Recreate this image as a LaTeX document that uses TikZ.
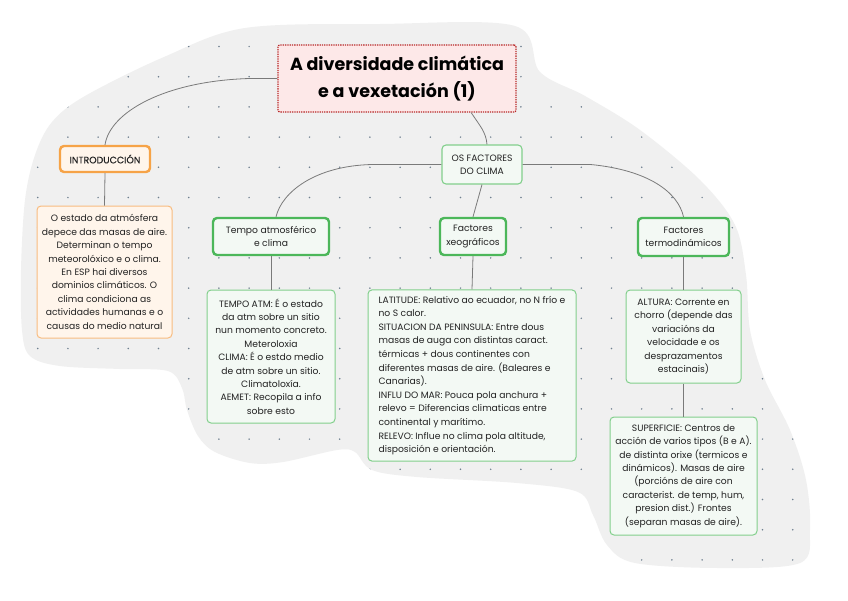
\documentclass[tikz,border=0pt]{standalone}
\usepackage{fontspec}
\setmainfont{Poppins}
\newfontfamily\semib[FakeBold=0.35]{Poppins}
\usetikzlibrary{calc}
\definecolor{blobgray}{HTML}{F0F0F0}
\definecolor{dotc}{HTML}{6F8090}
\definecolor{txt}{HTML}{222222}
\definecolor{connc}{HTML}{7A7A7A}
\definecolor{titlefill}{HTML}{FDE8E8}
\definecolor{titledraw}{HTML}{B82828}
\definecolor{orthick}{HTML}{F6A347}
\definecolor{orthin}{HTML}{F8BC80}
\definecolor{orfill}{HTML}{FFF5EB}
\definecolor{grthick}{HTML}{4CB75A}
\definecolor{grthin}{HTML}{82CF8C}
\definecolor{grfill}{HTML}{F3F9F4}
\tikzset{
  basebox/.style={rounded corners=4pt, align=center, inner sep=2pt, text=txt,
    font=\fontsize{9.2}{13.4}\selectfont},
  titlebox/.style={basebox, fill=titlefill, draw=titledraw, densely dotted, line width=1.3pt,
    rounded corners=2pt, text=black, font=\fontsize{17.5}{27.5}\selectfont\bfseries},
  orangehead/.style={basebox, fill=orfill, draw=orthick, line width=2.4pt,
    font=\fontsize{9.4}{13}\selectfont\semib},
  orangebody/.style={basebox, fill=orfill, draw=orthin, line width=1pt},
  greenhead/.style={basebox, fill=grfill, draw=grthick, line width=2.4pt},
  greenmid/.style={basebox, fill=grfill, draw=grthin, line width=1.1pt},
  greenbody/.style={basebox, fill=grfill, draw=grthin, line width=1pt},
  conn/.style={draw=connc, line width=0.8pt}
}
\begin{document}
\begin{tikzpicture}[x=1pt,y=-1pt]
\useasboundingbox (0,0) rectangle (848,600);
\fill[white] (0,0) rectangle (848,600);
\def\blob{plot[smooth cycle, tension=0.55] coordinates {
 (245,28) (380,24) (515,26) (540,72) (585,96) (640,130) (700,180) (735,225)
 (746,275) (750,330) (765,380) (790,430) (806,480) (810,530) (800,563) (720,568)
 (635,563) (607,545) (593,515) (578,492) (517,483) (417,477) (372,470) (355,452)
 (337,450) (283,462) (250,463) (215,452) (198,436) (187,410) (182,388) (168,371)
 (120,369) (60,366) (30,356) (22,330) (21,270) (25,200) (35,155) (52,122)
 (85,96) (164,57)}}
\fill[blobgray] \blob;
\begin{scope}
\clip \blob;
\foreach \i in {0,...,26} {
  \foreach \j in {0,...,17} {
    \fill[dotc] ({37.7+30.2*\i},{46.5+30.2*\j}) circle (0.85pt);
  }
}
\end{scope}

% nodes
\node[titlebox, minimum width=238pt, minimum height=67pt] (title) at (397,78.5)
  {A diversidade climática\\e a vexetación (1)};
\node[orangehead, minimum width=90pt, minimum height=26pt] (intro) at (105,159)
  {INTRODUCCIÓN};
\node[orangebody, minimum width=135pt, minimum height=132pt] (introbody) at (104.5,272)
  {O estado da atmósfera\\depece das masas de aire.\\Determinan o tempo\\meteorolóxico e o clima.\\En ESP hai diversos\\dominios climáticos. O\\clima condiciona as\\actividades humanas e o\\causas do medio natural};
\node[greenmid, minimum width=80pt, minimum height=39pt] (factores) at (482,164.5)
  {OS FACTORES\\DO CLIMA};
\node[greenhead, minimum width=116pt, minimum height=37pt] (tempo) at (271,236.5)
  {Tempo atmosférico\\e clima};
\node[greenhead, minimum width=66pt, minimum height=37pt] (xeo) at (473,236.5)
  {Factores\\xeográficos};
\node[greenhead, minimum width=91pt, minimum height=38pt] (termo) at (683.5,237)
  {Factores\\termodinámicos};
\node[greenbody, minimum width=128pt, minimum height=133pt] (tempobody) at (271,356.5)
  {TEMPO ATM: É o estado\\da atm sobre un sitio\\nun momento concreto.\\Meteroloxia\\CLIMA: É o estdo medio\\de atm sobre un sitio.\\Climatoloxía.\\AEMET: Recopila a info\\sobre esto};
\node[greenbody, minimum width=208pt, minimum height=171pt, align=left, inner sep=6pt,
  font=\fontsize{9.2}{13.6}\selectfont] (xeobody) at (472,375.5)
  {LATITUDE: Relativo ao ecuador, no N frío e\\no S calor.\\SITUACION DA PENINSULA: Entre dous\\masas de auga con distintas caract.\\térmicas + dous continentes con\\diferentes masas de aire. (Baleares e\\Canarias).\\INFLU DO MAR: Pouca pola anchura +\\relevo = Diferencias climaticas entre\\continental y marítimo.\\RELEVO: Influe no clima pola altitude,\\disposición e orientación.};
\node[greenbody, minimum width=115pt, minimum height=93pt] (altura) at (683.5,336.5)
  {ALTURA: Corrente en\\chorro (depende das\\variacións da\\velocidade e os\\desprazamentos\\estacinais)};
\node[greenbody, minimum width=147pt, minimum height=118pt] (superficie) at (683.5,476)
  {SUPERFICIE: Centros de\\acción de varios tipos (B e A).\\de distinta orixe (termicos e\\dinámicos). Masas de aire\\(porcións de aire con\\caracterist. de temp, hum,\\presion dist.) Frontes\\(separan masas de aire).};

% connectors
\draw[conn] (title.west) -- ++(-28,0) .. controls (165,81) and (110,112) .. (intro.north);
\draw[conn] ($(title.south west)!0.81!(title.south east)$) .. controls (480,126) and (486,132) .. ($(factores.north)+(5,0)$);
\draw[conn] (factores.west) -- ++(-70,0) .. controls (315,166) and (282,192) .. ($(tempo.north)+(5,0)$);
\draw[conn] (factores.south) -- (xeo.north);
\draw[conn] (factores.east) -- ++(68,0) .. controls (648,170) and (678,192) .. (termo.north);
\draw[conn] (intro.south) -- (introbody.north);
\draw[conn] (tempo.south) -- (tempobody.north);
\draw[conn] (xeo.south) -- (xeobody.north);
\draw[conn] (termo.south) -- (altura.north);
\draw[conn] (altura.south) -- (superficie.north);
\end{tikzpicture}
\end{document}
